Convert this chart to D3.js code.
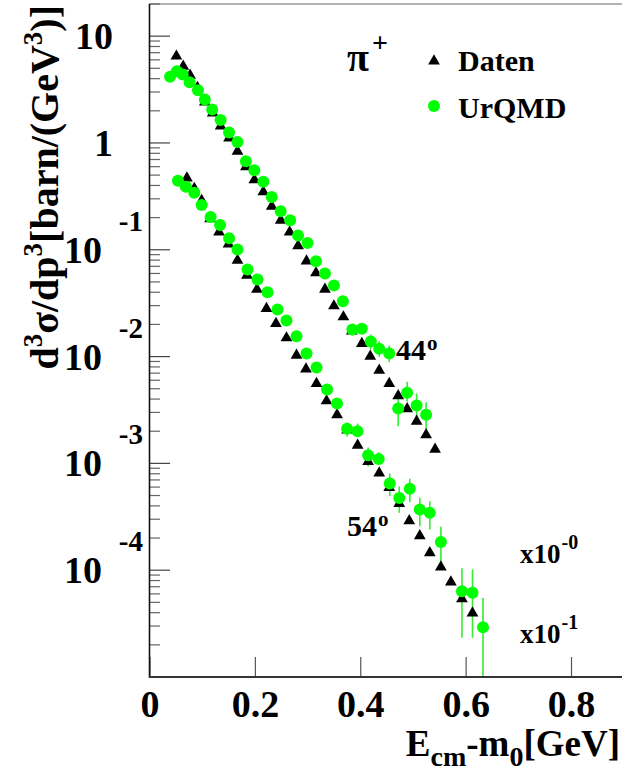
<!DOCTYPE html>
<html>
<head>
<meta charset="utf-8">
<script src="https://cdn.jsdelivr.net/npm/d3@7"></script>
<style>
  body { margin: 0; background: #fff; }
  svg { display: block; }
  text { font-family: "Liberation Serif", "Times New Roman", serif; font-weight: bold; fill: #000; }
</style>
</head>
<body>
<svg id="chart" width="622" height="776"></svg>
<script>
// data (lower set already scaled by 10^-1)
dat44X = [0.051,0.064,0.077,0.091,0.105,0.120,0.135,0.151,0.167,0.183,0.199,0.216,0.232,0.249,0.266,0.282,0.298,0.316,0.333,0.350,0.368,0.384,0.403,0.419,0.436,0.455,0.472,0.489,0.507,0.525,0.542];
dat44Y = [6.60,5.32,4.38,3.36,2.46,1.94,1.46,1.13,0.851,0.609,0.460,0.354,0.260,0.192,0.149,0.111,0.0799,0.0617,0.0434,0.0303,0.0239,0.0176,0.01346,0.01024,0.00757,0.00568,0.00437,0.00330,0.00252,0.00188,0.00138];

qmd44X = [0.039,0.052,0.063,0.076,0.092,0.105,0.119,0.135,0.151,0.167,0.183,0.199,0.216,0.232,0.249,0.267,0.282,0.300,0.316,0.333,0.350,0.367,0.385,0.403,0.420,0.436,0.455,0.472,0.489,0.507,0.525];
qmd44Y = [4.17,4.70,4.38,3.71,3.12,2.55,2.06,1.64,1.25,1.02,0.675,0.556,0.433,0.312,0.230,0.189,0.136,0.116,0.0782,0.0600,0.0463,0.0330,0.0179,0.0182,0.01385,0.01186,0.01069,0.00327,0.00458,0.00348,0.00285];
qmd44Lo = [null,null,null,null,null,null,null,null,null,null,null,null,null,null,null,null,null,null,null,null,null,null,0.01576,0.0166,0.01166,0.00996,0.00886,0.00223,0.00377,0.00258,0.00205];
qmd44Hi = [null,null,null,null,null,null,null,null,null,null,null,null,null,null,null,null,null,null,null,null,null,null,0.0200,0.0198,0.0161,0.01394,0.01270,0.00435,0.00581,0.00451,0.00374];

dat54X = [0.071,0.085,0.099,0.115,0.132,0.150,0.167,0.185,0.204,0.222,0.240,0.260,0.279,0.297,0.317,0.336,0.356,0.375,0.395,0.415,0.436,0.455,0.474,0.493,0.513,0.532,0.553,0.572,0.593,0.613];
dat54Y = [0.477,0.381,0.294,0.198,0.149,0.115,0.0811,0.0587,0.0434,0.0286,0.0207,0.0152,0.01046,0.00777,0.00568,0.00391,0.00290,0.00208,0.00150,0.00106,0.000827,0.000604,0.000428,0.000295,0.000213,0.000148,0.000109,0.0000789,0.0000549,0.0000404];

qmd54X = [0.054,0.069,0.085,0.099,0.116,0.134,0.151,0.167,0.186,0.205,0.224,0.243,0.260,0.279,0.298,0.317,0.337,0.356,0.375,0.395,0.415,0.435,0.456,0.474,0.494,0.513,0.532,0.553,0.593,0.613,0.633];
qmd54Y = [0.443,0.389,0.342,0.262,0.203,0.171,0.128,0.1006,0.0654,0.0527,0.0401,0.0276,0.0218,0.0155,0.01069,0.00791,0.00492,0.00364,0.00211,0.00200,0.00119,0.00110,0.000648,0.000474,0.000578,0.000370,0.000345,0.000184,0.0000636,0.0000614,0.0000292];
qmd54Lo = [null,null,null,null,null,null,null,null,null,null,null,null,null,null,null,null,null,null,0.00179,0.00179,0.000935,0.000977,0.000493,0.000345,0.000433,0.000258,0.000240,0.000109,0.0000233,0.0000233,0.0000102];
qmd54Hi = [null,null,null,null,null,null,null,null,null,null,null,null,null,null,null,null,null,null,0.00241,0.00236,0.00141,0.00127,0.000804,0.000608,0.000718,0.000476,0.000443,0.000255,0.000104,0.000102,0.0000551];

xTicks = [0, 0.2, 0.4, 0.6, 0.8];
xTickLabels = ["0", "0.2", "0.4", "0.6", "0.8"];
yDecades = [1, 0, -1, -2, -3, -4];

svg = d3.select('#chart');
green = '#00ff00';

x = d3.scaleLinear().domain([0, 0.9]).range([149.5, 623.7]);
y = d3.scaleLog().domain([1e-5, 20]).range([677, 4]);

// frame
svg.append('line').attr('x1', 149.5).attr('x2', 622).attr('y1', 4).attr('y2', 4)
  .attr('stroke', '#666').attr('stroke-width', 1.2);

// y minor + major ticks (pointing into the frame)
yMinor = y.ticks().filter(v => Math.abs(Math.log10(v) - Math.round(Math.log10(v))) > 1e-6);
svg.selectAll('.yminor').data(yMinor).enter().append('line')
  .attr('x1', 149.5).attr('x2', 160)
  .attr('y1', d => y(d)).attr('y2', d => y(d))
  .attr('stroke', '#666').attr('stroke-width', 1.2);
svg.selectAll('.ymajor').data(yDecades).enter().append('line')
  .attr('x1', 149.5).attr('x2', 170)
  .attr('y1', d => y(Math.pow(10, d))).attr('y2', d => y(Math.pow(10, d)))
  .attr('stroke', '#444').attr('stroke-width', 1.2);

// x axis
xAxis = svg.append('g')
  .attr('transform', 'translate(0,677)')
  .call(d3.axisBottom(x).tickValues(xTicks).tickSize(-20).tickPadding(13)
    .tickFormat((d, i) => xTickLabels[i]));
xAxis.select('.domain').remove();
xAxis.selectAll('.tick line').attr('stroke', '#555').attr('stroke-width', 1.2);
xAxis.selectAll('.tick text')
  .attr('font-family', '"Liberation Serif", serif').attr('font-weight', 'bold')
  .attr('font-size', 38).attr('fill', '#000');

// axis lines
svg.append('line').attr('x1', 149.5).attr('x2', 149.5).attr('y1', 4).attr('y2', 678)
  .attr('stroke', '#111').attr('stroke-width', 1.6);
svg.append('line').attr('x1', 149).attr('x2', 622).attr('y1', 677).attr('y2', 677)
  .attr('stroke', '#333').attr('stroke-width', 2);

// y tick labels, ROOT style: "10" with exponent shifted up to the right
yDecades.forEach(d => {
  yy = y(Math.pow(10, d));
  if (d === 0) {
    svg.append('text').attr('x', 113).attr('y', yy + 13).attr('text-anchor', 'end')
      .attr('font-size', 38).text('1');
  } else if (d === 1) {
    svg.append('text').attr('x', 113).attr('y', yy + 13).attr('text-anchor', 'end')
      .attr('font-size', 38).text('10');
  } else {
    svg.append('text').attr('x', 102).attr('y', yy + 13).attr('text-anchor', 'end')
      .attr('font-size', 38).text('10');
    svg.append('text').attr('x', 143).attr('y', yy - 19).attr('text-anchor', 'end')
      .attr('font-size', 29).text(String(d));
  }
});

// error bars
function errBars(xs, ys, lo, hi) {
  idx = d3.range(xs.length).filter(i => lo[i] !== null);
  svg.append('g').selectAll('line').data(idx).enter().append('line')
    .attr('x1', i => x(xs[i])).attr('x2', i => x(xs[i]))
    .attr('y1', i => y(hi[i])).attr('y2', i => y(Math.max(lo[i], 1e-5)))
    .attr('stroke', '#33ee33').attr('stroke-width', 1.6);
}
errBars(qmd44X, qmd44Y, qmd44Lo, qmd44Hi);
errBars(qmd54X, qmd54Y, qmd54Lo, qmd54Hi);

tri = d3.symbol().type(d3.symbolTriangle).size(60);
function triangles(xs, ys) {
  svg.append('g').selectAll('path').data(xs).enter().append('path')
    .attr('d', tri)
    .attr('transform', (d, i) => `translate(${x(d)},${y(ys[i]) + 0.8})`)
    .attr('fill', '#000');
}
function circles(xs, ys) {
  svg.append('g').selectAll('circle').data(xs).enter().append('circle')
    .attr('cx', d => x(d)).attr('cy', (d, i) => y(ys[i]))
    .attr('r', 6).attr('fill', green);
}
triangles(dat44X, dat44Y);
triangles(dat54X, dat54Y);
circles(qmd44X, qmd44Y);
circles(qmd54X, qmd54Y);

// legend
svg.append('text').attr('x', 347).attr('y', 71).attr('font-size', 40)
  .attr('font-weight', 'normal').text('π');
svg.append('text').attr('x', 372).attr('y', 52).attr('font-size', 28)
  .attr('font-weight', 'normal').text('+');
svg.append('path').attr('d', tri).attr('transform', 'translate(434,61)').attr('fill', '#000');
svg.append('text').attr('x', 458).attr('y', 71).attr('font-size', 30).text('Daten');
svg.append('circle').attr('cx', 434).attr('cy', 106).attr('r', 6).attr('fill', green);
svg.append('text').attr('x', 458).attr('y', 118).attr('font-size', 30).text('UrQMD');

// angle labels and scale factors
function supText(px, py, base, sup, fs, sfs, dx, dy) {
  t = svg.append('text').attr('x', px).attr('y', py).attr('font-size', fs);
  t.append('tspan').text(base);
  t.append('tspan').attr('font-size', sfs).attr('dx', dx).attr('dy', dy).text(sup);
}
supText(396, 360, '44', 'o', 30, 21, 1, -10);
supText(347, 536, '54', 'o', 30, 21, 1, -10);
supText(520, 563, 'x10', '-0', 27, 20, 1, -14);
supText(520, 643, 'x10', '-1', 27, 20, 1, -14);

// x title
xt = svg.append('text').attr('x', 620).attr('y', 756).attr('text-anchor', 'end').attr('font-size', 37);
xt.append('tspan').text('E');
xt.append('tspan').attr('font-size', 28).attr('dy', 10).text('cm');
xt.append('tspan').attr('dy', -10).text('-m');
xt.append('tspan').attr('font-size', 28).attr('dy', 10).text('0');
xt.append('tspan').attr('dy', -10).text('[GeV]');

// y title
yt = svg.append('text').attr('transform', 'translate(58,5) rotate(-90)')
  .attr('text-anchor', 'end').attr('font-size', 40);
yt.append('tspan').text('d');
yt.append('tspan').attr('font-size', 27).attr('dy', -16).text('3');
yt.append('tspan').attr('dy', 16).text('σ/dp');
yt.append('tspan').attr('font-size', 27).attr('dy', -16).text('3');
yt.append('tspan').attr('dy', 16).text('[barn/(GeV');
yt.append('tspan').attr('font-size', 27).attr('dy', -16).text('3');
yt.append('tspan').attr('dy', 16).text(')]');
</script>
</body>
</html>
